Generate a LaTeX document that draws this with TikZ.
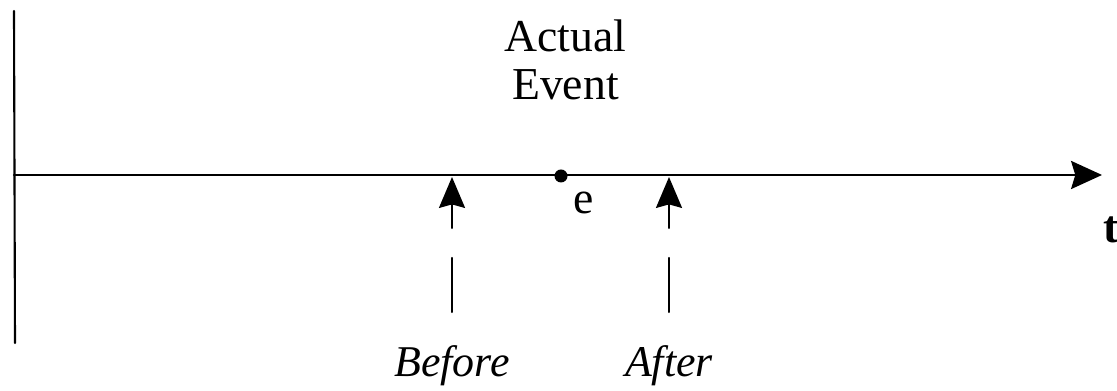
\documentclass[tikz,border=0pt]{standalone}
\usepackage{fontspec}
\setmainfont{Liberation Serif}
\usetikzlibrary{arrows.meta}

\begin{document}
\begin{tikzpicture}[>={Stealth[length=8.8pt,width=8pt,inset=1.2pt]},line join=round,line cap=round,
  lbl/.style={font=\fontsize{13}{13.6}\selectfont,inner sep=0pt}]
\useasboundingbox (0,0) rectangle (11.17,-3.91);
\coordinate (top) at (0.14,-0.11);
\coordinate (bot) at (0.15,-3.43);
\coordinate (o) at (0.14,-1.75);
\coordinate (tend) at (11.02,-1.75);
\draw[semithick] (top) -- (bot);
\draw[semithick,->] (o) -- (tend);
\node[lbl,anchor=base] (t) at (11.11,-2.43) {\bfseries t};
\fill (5.61,-1.76) coordinate (ev) circle[radius=0.065];
\node[lbl,anchor=base] (e) at (5.84,-2.14) {e};
\node[lbl,anchor=north,align=center] (actual) at (5.655,-0.19) {Actual\\Event};
\foreach \x/\n/\lab in {4.52/bef/Before,6.69/aft/After}{
    \coordinate (\n tip) at (\x,-1.77);
    \coordinate (\n mid) at (\x,-2.28);
    \coordinate (\n hi) at (\x,-2.58);
    \coordinate (\n lo) at (\x,-3.12);
    \draw[semithick,->,>={Stealth[length=8.8pt,width=7.4pt,inset=1pt]}] (\n mid) -- (\n tip);
    \draw[semithick] (\n lo) -- (\n hi);
    \node[lbl,anchor=base,font=\fontsize{12.5}{13}\selectfont\itshape] (\n) at (\x,-3.77) {\lab};
}
\end{tikzpicture}
\end{document}
